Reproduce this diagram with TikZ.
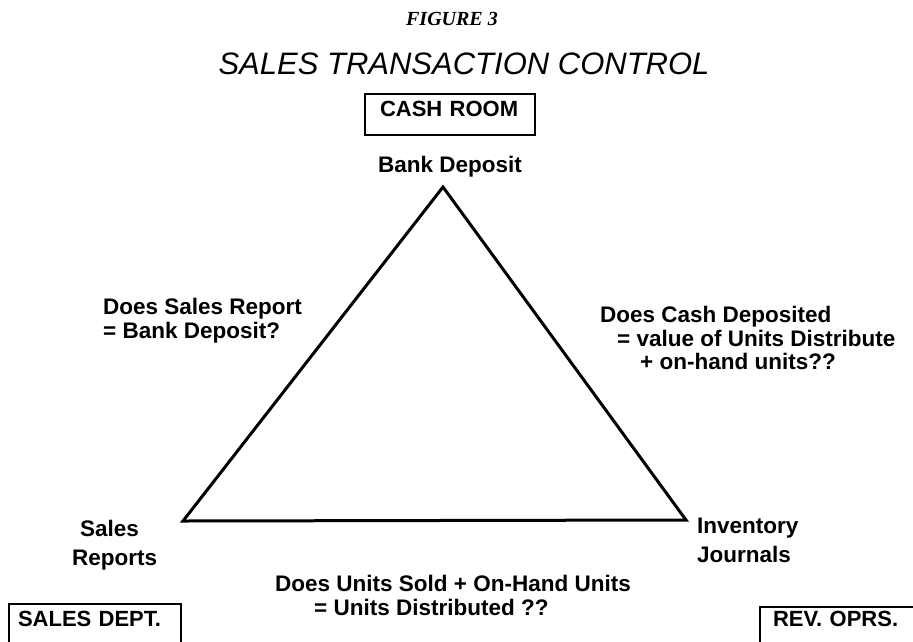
\documentclass[tikz,border=0pt]{standalone}
\usepackage{fontspec}
\newfontfamily\labelfont{Liberation Sans}
\newfontfamily\capfont{Liberation Serif}
\tikzset{
    lbl/.style = {inner sep = 0pt, font = \labelfont\bfseries\fontsize{22.5pt}{23.5pt}\selectfont, align = left},
    unitbox/.style = {draw, line width = 2pt, inner xsep = 9pt, inner ysep = 6pt, text height = 16pt, align = left,
        font = \labelfont\bfseries\fontsize{22pt}{24pt}\selectfont},
    side/.style = {line width = 3pt, line join = miter}
}

\begin{document}
\begin{tikzpicture}[x = 1pt, y = -1pt]

        \useasboundingbox (0, 0) rectangle (913, 641);

        \node [inner sep = 0pt, anchor = base, font = \capfont\bfseries\itshape\fontsize{20pt}{22pt}\selectfont] (fig) at (452, 25) {FIGURE 3};
        \node [inner sep = 0pt, anchor = base, font = \labelfont\itshape\fontsize{31pt}{33pt}\selectfont] (title) at (464, 74) {SALES TRANSACTION CONTROL};

        % Departments
        \node [unitbox, anchor = north west, inner xsep = 15pt, text width = 140pt, text depth = 13pt] (cash) at (364, 93) {CASH ROOM};
        \node [unitbox, anchor = north west, text width = 154pt, text depth = 40pt] (sales) at (8, 603) {SALES DEPT.};
        \node [unitbox, anchor = north west, inner xsep = 13pt, text width = 180pt, text height = 13pt, text depth = 40pt] (rev) at (759, 606) {REV. OPRS.};

        % Corners of the triangle
        \coordinate (bank) at (443, 187);
        \coordinate (reports) at (183, 521);
        \coordinate (journals) at (686, 520);
        \draw [side] (bank) -- (journals) -- (reports) -- cycle;

        \node [lbl, anchor = base] (bankl) at (450, 172) {Bank Deposit};
        \node [lbl, anchor = base west] (salesl) at (80, 536) {Sales};
        \node [lbl, anchor = base west] (reportsl) at (72, 565) {Reports};
        \node [lbl, anchor = base west] (invl) at (697, 533) {Inventory};
        \node [lbl, anchor = base west] (jrnl) at (697, 562) {Journals};

        % Questions along each side
        \node [lbl, anchor = north west] (q1) at (103, 298) {Does Sales Report\\= Bank Deposit?};
        \node [lbl, anchor = north west] (q2) at (600, 306) {Does Cash Deposited\\\hspace*{17pt}= value of Units Distribute\\\hspace*{40pt}+ on-hand units??};
        \node [lbl, anchor = north west] (q3) at (275, 575) {Does Units Sold + On-Hand Units\\\hspace*{39pt}= Units Distributed ??};

    \end{tikzpicture}
\end{document}
